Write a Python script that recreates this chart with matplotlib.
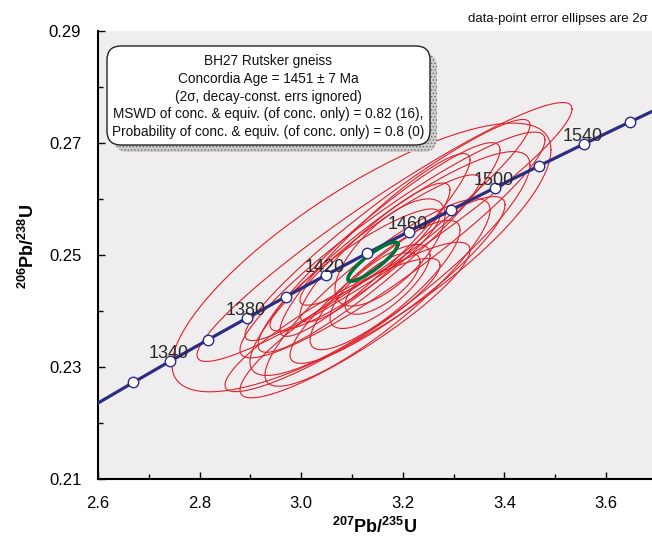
import numpy as np
import matplotlib.pyplot as plt
from matplotlib.patches import FancyBboxPatch
from matplotlib.ticker import MultipleLocator

plt.rcParams['font.family'] = ['Liberation Sans', 'DejaVu Sans']
plt.rcParams['mathtext.fontset'] = 'custom'
plt.rcParams['mathtext.rm'] = 'Liberation Sans'
plt.rcParams['mathtext.bf'] = 'Liberation Sans:bold'
plt.rcParams['hatch.linewidth'] = 0.6

# =========================
# 1. Data: U-Pb analyses (centre, 2s half-widths, error correlation)
# =========================

pb207_u235 = [3.1187, 3.1640, 3.1797, 3.1699, 3.1748, 3.1532, 3.1502, 3.1453, 3.1896,
              3.1453, 3.1650, 3.1748, 3.1551, 3.0616, 3.1748, 3.1601, 3.1059, 3.1059]
err_207 = [0.3730, 0.3691, 0.3002, 0.2805, 0.2756, 0.2382, 0.2215, 0.1870, 0.2116,
           0.1476, 0.1476, 0.1083, 0.0984, 0.2116, 0.1772, 0.0738, 0.1673, 0.2264]
pb206_u238 = [0.24956, 0.25411, 0.25179, 0.25446, 0.24848, 0.25134, 0.24330, 0.25179, 0.24554,
              0.25045, 0.24464, 0.25045, 0.24438, 0.23750, 0.25268, 0.24491, 0.24732, 0.23839]
err_206 = [0.02399, 0.02312, 0.02016, 0.01974, 0.01999, 0.01872, 0.01674, 0.01632, 0.01489,
           0.01240, 0.01155, 0.00957, 0.00750, 0.01190, 0.01164, 0.00549, 0.01091, 0.01389]
rho = [0.80, 0.95, 0.93, 0.95, 0.88, 0.93, 0.88, 0.93, 0.90,
       0.90, 0.85, 0.70, 0.75, 0.90, 0.92, 0.70, 0.90, 0.90]

# concordia age ellipse
conc_x, conc_ex = 3.141, 0.0492
conc_y, conc_ey = 0.2488, 0.00350
conc_rho = 0.88

# concordia tick ages (Ma)
tick_ages = [1320, 1340, 1360, 1380, 1400, 1420, 1440, 1460, 1480, 1500, 1520, 1540, 1560]
label_ages = [1340, 1380, 1420, 1460, 1500, 1540]

# decay constants (1/yr)
lam238 = 1.55125e-10
lam235 = 9.8485e-10


def concordia(t_ma):
    t = np.asarray(t_ma) * 1e6
    return np.exp(lam235 * t) - 1, np.exp(lam238 * t) - 1


def ellipse_xy(cx, ex, cy, ey, r, n=120):
    th = np.linspace(0, 2 * np.pi, n)
    x = cx + ex * np.cos(th)
    y = cy + ey * (r * np.cos(th) + np.sqrt(1 - r ** 2) * np.sin(th))
    return x, y


# =========================
# 2. Figure
# =========================

fig = plt.figure(figsize=(6.52, 5.39), dpi=100)
ax = fig.add_axes([98 / 652, 60 / 539, 554 / 652, 448 / 539])
ax.set_facecolor('#efedee')

for i in range(len(pb207_u235)):
    x, y = ellipse_xy(pb207_u235[i], err_207[i], pb206_u238[i], err_206[i], rho[i])
    ax.plot(x, y, color='#e0202a', lw=0.8, zorder=2)

ages = np.linspace(1250, 1650, 400)
cx, cy = concordia(ages)
ax.plot(cx, cy, color='#2b2d84', lw=2.3, zorder=3)

gx, gy = ellipse_xy(conc_x, conc_ex, conc_y, conc_ey, conc_rho, n=30)
ax.plot(gx, gy, color='#00723a', lw=2.6, zorder=4)

tx, ty = concordia(tick_ages)
ax.plot(tx, ty, 'o', ms=7.5, mfc='white', mec='#2b2d84', mew=1.0, zorder=5)

lx, ly = concordia(label_ages)
for a, x, y in zip(label_ages, lx, ly):
    ax.annotate(str(a), (x, y), xytext=(-1, 2), textcoords='offset points',
                ha='center', va='baseline', fontsize=13, color='#2a2a2a', zorder=6)

ax.set_xlim(2.6, 2.6 + 554 / 508)
ax.set_ylim(0.21, 0.29)
ax.xaxis.set_major_locator(MultipleLocator(0.2))
ax.xaxis.set_minor_locator(MultipleLocator(0.1))
ax.yaxis.set_major_locator(MultipleLocator(0.02))
ax.yaxis.set_minor_locator(MultipleLocator(0.01))
ax.set_xticks([2.6, 2.8, 3.0, 3.2, 3.4, 3.6])
ax.set_xticklabels(['2.6', '2.8', '3.0', '3.2', '3.4', '3.6'])
ax.set_yticks([0.21, 0.23, 0.25, 0.27, 0.29])
ax.set_yticklabels(['0.21', '0.23', '0.25', '0.27', '0.29'])
ax.tick_params(which='both', direction='in', color='black', labelsize=12, pad=12)
ax.tick_params(which='major', length=5, width=1)
ax.tick_params(which='minor', length=3.5, width=1)

for s in ['top', 'right']:
    ax.spines[s].set_visible(False)
for s in ['left', 'bottom']:
    ax.spines[s].set_linewidth(1.5)

ax.set_xlabel(r'$\mathbf{^{207}Pb/^{235}U}$', fontsize=13)
ax.xaxis.set_label_coords(0.5, -0.085)
ax.set_ylabel(r'$\mathbf{^{206}Pb/^{238}U}$', fontsize=13)
ax.yaxis.set_label_coords(-0.108, 0.52)

# =========================
# 3. Result box with shadow
# =========================

tr = fig.dpi_scale_trans
shadow = FancyBboxPatch((1.14, 5.39 - 1.52), 3.23, 0.99,
                        boxstyle='round,pad=0,rounding_size=0.14',
                        facecolor='#cfcfcf', edgecolor='#6a6a6a', hatch='.....',
                        lw=0, transform=tr, zorder=7)
box = FancyBboxPatch((1.07, 5.39 - 1.45), 3.23, 0.99,
                     boxstyle='round,pad=0,rounding_size=0.14',
                     facecolor='white', edgecolor='#222222', lw=1.0,
                     transform=tr, zorder=8)
fig.patches.extend([shadow, box])

box_text = ('BH27 Rutsker gneiss\n'
            'Concordia Age = 1451 \u00b1 7 Ma\n'
            '(2\u03c3, decay-const. errs ignored)\n'
            'MSWD of conc. & equiv. (of conc. only) = 0.82 (16),\n'
            'Probability of conc. & equiv. (of conc. only) = 0.8 (0)')
fig.text(2.685, 5.39 - 0.965, box_text, transform=tr, ha='center', va='center',
         fontsize=9.8, linespacing=1.36, color='#111111', zorder=9)

fig.text(648 / 652, 1 - 19 / 539, 'data-point error ellipses are 2\u03c3',
         ha='right', va='center', fontsize=9.5, color='#111111')

fig.savefig('out.png', dpi=100)
